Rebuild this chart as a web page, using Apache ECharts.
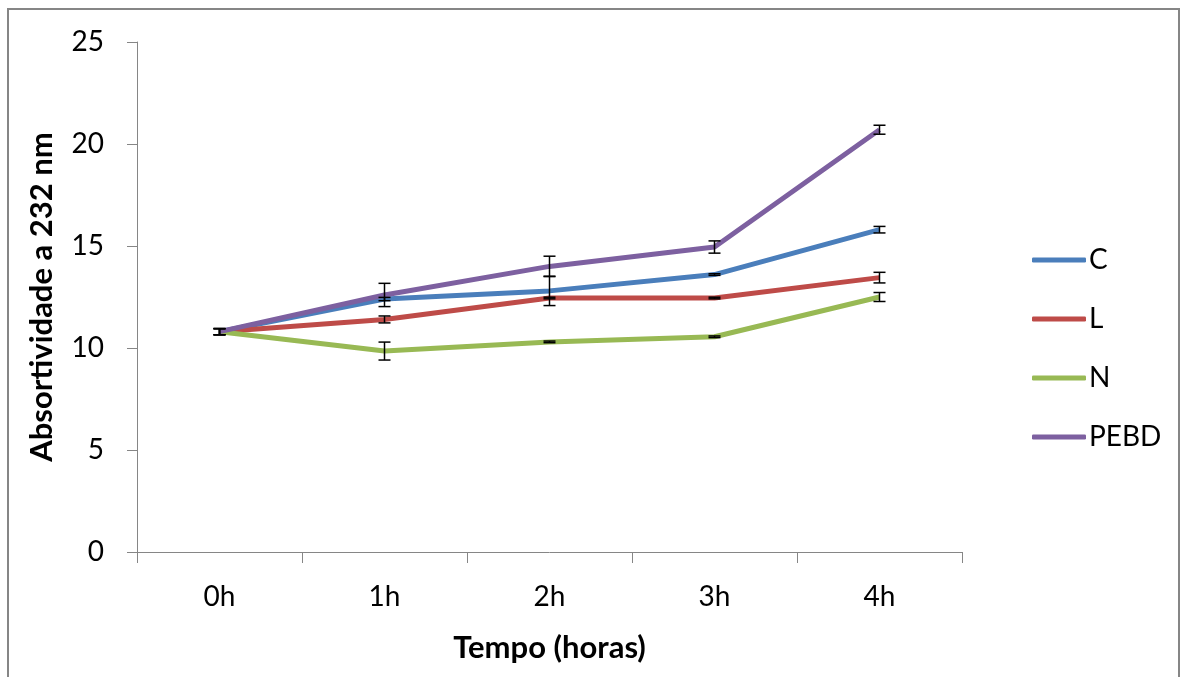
<!DOCTYPE html>
<html>
<head>
<meta charset="utf-8">
<script src="https://cdn.jsdelivr.net/npm/echarts@6/dist/echarts.min.js"></script>
<style>
  html, body { margin: 0; padding: 0; background: #fff; }
  #chart { width: 1184px; height: 677px; }
</style>
</head>
<body>
<div id="chart"></div>
<script>
// horas
var categories = ['0h', '1h', '2h', '3h', '4h'];
var seriesNames = ['C', 'L', 'N', 'PEBD'];
// médias
var valC = [10.8, 12.4, 12.8, 13.6, 15.8];
var valL = [10.8, 11.4, 12.45, 12.45, 13.45];
var valN = [10.8, 9.85, 10.3, 10.55, 12.5];
var valPEBD = [10.8, 12.6, 14.0, 14.95, 20.7];
// desvios (barras de erro)
var errC = [0.15, 0.08, 0.72, 0.04, 0.16];
var errL = [0.15, 0.17, 0.04, 0.04, 0.26];
var errN = [0.15, 0.44, 0.04, 0.04, 0.22];
var errPEBD = [0.15, 0.57, 0.5, 0.3, 0.22];
var yTicks = [0, 5, 10, 15, 20, 25];

var colors = ['#4A7EBB', '#BE4B48', '#98B954', '#7D60A0'];
var values = [valC, valL, valN, valPEBD];
var errors = [errC, errL, errN, errPEBD];

var myChart = echarts.init(document.getElementById('chart'));

function errorBar(params, api) {
  var x = api.value(0), v = api.value(1), e = api.value(2);
  var top = api.coord([x, v + e]);
  var bot = api.coord([x, v - e]);
  var w = 6;
  var st = { stroke: '#000', lineWidth: 1.5 };
  return {
    type: 'group',
    children: [
      { type: 'line', shape: { x1: top[0], y1: top[1], x2: bot[0], y2: bot[1] }, style: st },
      { type: 'line', shape: { x1: top[0] - w, y1: top[1], x2: top[0] + w, y2: top[1] }, style: st },
      { type: 'line', shape: { x1: bot[0] - w, y1: bot[1], x2: bot[0] + w, y2: bot[1] }, style: st }
    ]
  };
}

var series = [];
seriesNames.forEach(function (name, i) {
  series.push({
    name: name,
    type: 'line',
    data: values[i],
    symbol: 'none',
    color: colors[i],
    lineStyle: { width: 5, color: colors[i] },
    z: 2
  });
});
seriesNames.forEach(function (name, i) {
  series.push({
    type: 'custom',
    renderItem: errorBar,
    data: values[i].map(function (v, j) { return [j, v, errors[i][j]]; }),
    encode: { x: 0, y: 1 },
    z: 5,
    silent: true
  });
});

var option = {
  backgroundColor: '#fff',
  animation: false,
  grid: { left: 137, right: 222, top: 42, bottom: 125, containLabel: false },
  graphic: [{
    type: 'rect',
    shape: { x: 8, y: 9, width: 1171, height: 700 },
    style: { fill: 'none', stroke: '#868686', lineWidth: 2 },
    silent: true
  }],
  legend: {
    data: seriesNames,
    orient: 'vertical',
    left: 1027,
    top: 241,
    itemWidth: 54,
    itemHeight: 5,
    itemGap: 31,
    icon: 'roundRect',
    textStyle: { fontFamily: 'Lato', fontSize: 28, color: '#000', padding: [0, 0, 0, -2] }
  },
  xAxis: {
    type: 'category',
    data: categories,
    boundaryGap: true,
    name: 'Tempo (horas)',
    nameLocation: 'middle',
    nameGap: 80,
    nameTextStyle: { fontFamily: 'Lato', fontWeight: 'bold', fontSize: 31, color: '#000' },
    axisLine: { lineStyle: { color: '#868686', width: 1 } },
    axisTick: { show: true, length: 11, alignWithLabel: false, lineStyle: { color: '#868686' } },
    axisLabel: { fontFamily: 'Lato', fontSize: 28, color: '#000', margin: 31 },
    splitLine: { show: false }
  },
  yAxis: {
    type: 'value',
    min: 0,
    max: 25,
    interval: 5,
    name: 'Absortividade a 232 nm',
    nameLocation: 'middle',
    nameGap: 80,
    nameTextStyle: { fontFamily: 'Lato', fontWeight: 'bold', fontSize: 31, color: '#000' },
    axisLine: { show: true, lineStyle: { color: '#868686', width: 1 } },
    axisTick: { show: true, length: 10, lineStyle: { color: '#868686' } },
    axisLabel: {
      fontFamily: 'Lato', fontSize: 28, color: '#000', margin: 33,
      formatter: function (v) { return yTicks.indexOf(v) >= 0 ? String(v) : ''; }
    },
    splitLine: { show: false }
  },
  series: series
};

myChart.setOption(option);
window.addEventListener('resize', function () {
  myChart.resize();
});
</script>
</body>
</html>
